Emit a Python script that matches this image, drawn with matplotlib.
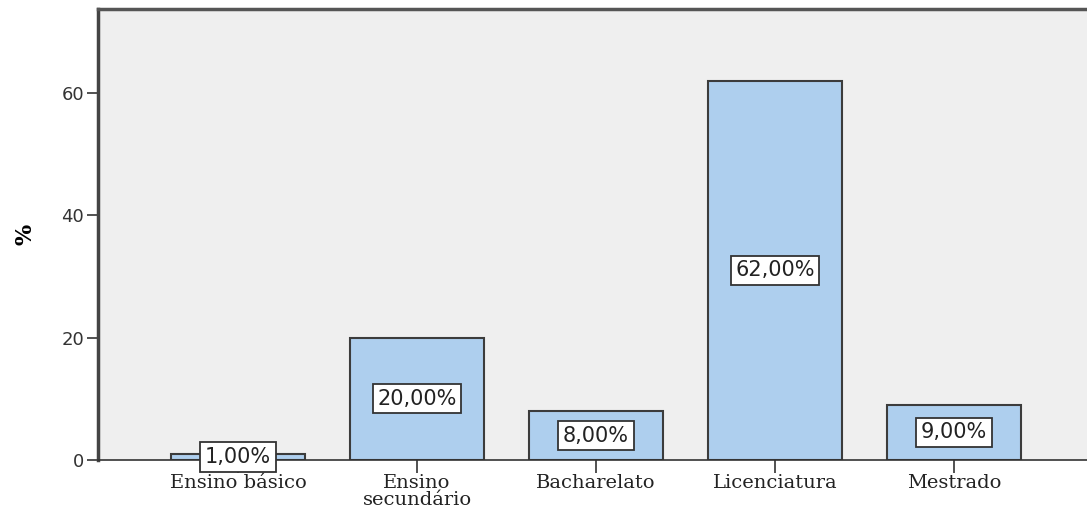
import matplotlib.pyplot as plt

# Escolaridade dos inquiridos (%)
categorias = ['Ensino básico', 'Ensino\nsecundário', 'Bacharelato', 'Licenciatura', 'Mestrado']
percentagens = [1.0, 20.0, 8.0, 62.0, 9.0]
rotulos = ['1,00%', '20,00%', '8,00%', '62,00%', '9,00%']

fig = plt.figure(figsize=(10.87, 5.14), dpi=100)
ax = fig.add_axes([0.0902, 0.105, 0.9098, 0.8775])
ax.set_facecolor('#efefef')

x = range(len(categorias))
ax.bar(x, percentagens, width=0.75, color='#aecfee', edgecolor='#3c3c3c', linewidth=1.5, zorder=2)

for xi, v, r in zip(x, percentagens, rotulos):
    ax.text(xi, v / 2, r, ha='center', va='center', fontsize=15, color='#222222',
            family='DejaVu Sans', zorder=3,
            bbox=dict(boxstyle='square,pad=0.22', facecolor='white', edgecolor='#333333', linewidth=1.3))

ax.set_xlim(-0.782, 4.743)
ax.set_ylim(0, 73.7)
ax.set_yticks([0, 20, 40, 60])
ax.set_xticks(list(x))
ax.set_xticklabels(categorias, family='DejaVu Serif', fontsize=14, linespacing=0.9)
ax.tick_params(axis='y', direction='out', length=8, width=1.2, colors='#333333', labelsize=13, pad=2)
ax.tick_params(axis='x', direction='out', length=9, width=1.2, colors='#333333', pad=1)
for lbl in ax.get_yticklabels():
    lbl.set_color('#333333')
for lbl in ax.get_xticklabels():
    lbl.set_color('#222222')

ax.set_ylabel('%', family='DejaVu Serif', fontsize=16, fontweight='bold', labelpad=18)

ax.spines['right'].set_visible(False)
ax.spines['left'].set_linewidth(2.5)
ax.spines['left'].set_color('#444444')
ax.spines['top'].set_linewidth(2.5)
ax.spines['top'].set_color('#555555')
ax.spines['bottom'].set_linewidth(1.2)
ax.spines['bottom'].set_color('#333333')

fig.savefig('out.png', dpi=100)
